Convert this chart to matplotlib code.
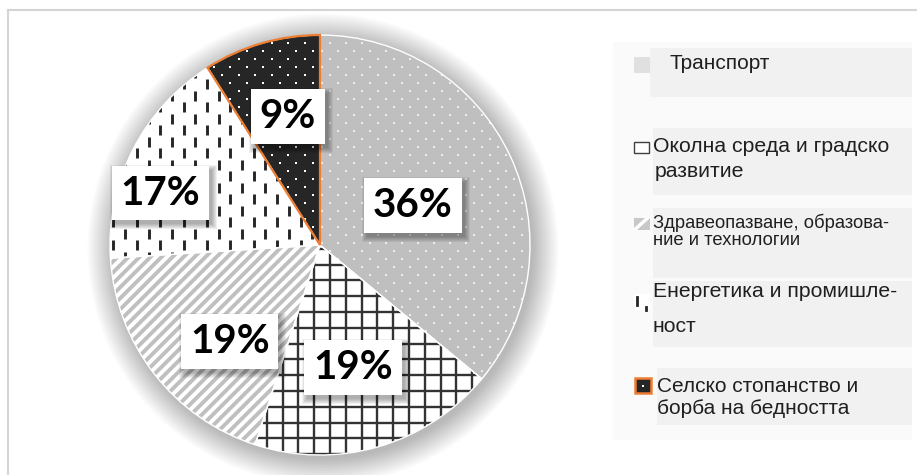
import numpy as np
import matplotlib
matplotlib.use("Agg")
import matplotlib.pyplot as plt
from matplotlib.patches import Rectangle, Circle, Wedge
from matplotlib.collections import LineCollection

# ---- data ----
categories = [
    "Транспорт",
    "Околна среда и градско развитие",
    "Здравеопазване, образование и технологии",
    "Енергетика и промишленост",
    "Селско стопанство и борба на бедността",
]
values = [36, 19, 19, 17, 9]
legend_lines = [
    ["Транспорт"],
    ["Околна среда и градско", "развитие"],
    ["Здравеопазване, образова-", "ние и технологии"],
    ["Енергетика и промишле-", "ност"],
    ["Селско стопанство и", "борба на бедността"],
]

# ---- layout / style ----
W, H = 917, 475
def Y(y):
    return H - y

CX, CY, R = 320, Y(245), 210
face = ["#BFBFBF", "#FFFFFF", "#BFBFBF", "#FFFFFF", "#262626"]
label_frac = [0.48, 0.605, 0.63, 0.80, 0.63]
label_tweak = [-2.2, -1.2, 9.2, 9.0, -2.2]   # degrees (ccw)

fig = plt.figure(figsize=(W / 100, H / 100), dpi=100)
ax = fig.add_axes([0, 0, 1, 1])
ax.set_xlim(0, W)
ax.set_ylim(0, H)

# soft glow/shadow behind the pie
for i in range(18):
    ax.add_patch(Circle((CX + 3, CY - 4), R + i * 1.5, fc="black",
                        ec="none", alpha=0.014, zorder=0.5))

wedges, _ = ax.pie(values, startangle=90, counterclock=False,
                   center=(CX, CY), radius=R,
                   colors=face, wedgeprops=dict(linewidth=0))
for w in wedges:
    w.set_zorder(1)

x0, x1, y0, y1 = CX - R - 20, CX + R + 20, CY - R - 20, CY + R + 20

def lattice(dx, dy, stagger):
    pts = []
    ys = np.arange(y0, y1, dy)
    for j, yy in enumerate(ys):
        off = stagger if j % 2 else 0
        for xx in np.arange(x0 + off, x1, dx):
            pts.append((xx, yy))
    return np.array(pts)

# 0: transport - grey with light dots
p = lattice(16, 8, 8)
sc = ax.scatter(p[:, 0], p[:, 1], s=2.4, marker="s", c="#EDEDED",
                linewidths=0, zorder=2)
sc.set_clip_path(wedges[0])

# 1: crosshatch grid
segs = [[(xx, y0), (xx, y1)] for xx in np.arange(x0 + 3, x1, 15.8)]
segs += [[(x0, yy), (x1, yy)] for yy in np.arange(y0 + 5, y1, 15.8)]
lc = LineCollection(segs, colors="#333333", linewidths=1.7, zorder=2)
ax.add_collection(lc)
lc.set_clip_path(wedges[1])

# 2: diagonal white stripes on grey
segs = [[(xx, y0), (xx + (y1 - y0), y1)] for xx in np.arange(x0 - (y1 - y0), x1, 11)]
lc = LineCollection(segs, colors="white", linewidths=2.8, zorder=2)
ax.add_collection(lc)
lc.set_clip_path(wedges[2])

# 3: vertical dashes
p = lattice(23.4, 11.5, 11.7)
segs = [[(a, b - 5), (a, b + 5)] for a, b in p]
lc = LineCollection(segs, colors="#262626", linewidths=2.1, zorder=2)
ax.add_collection(lc)
lc.set_clip_path(wedges[3])

# 4: dark with white dots
p = lattice(16.5, 8, 8.25)
sc = ax.scatter(p[:, 0], p[:, 1], s=2.6, marker="s", c="white",
                linewidths=0, zorder=2)
sc.set_clip_path(wedges[4])

# wedge borders
for i, w in enumerate(wedges):
    ax.add_patch(Wedge(w.center, w.r, w.theta1, w.theta2, fill=False,
                       ec="white", lw=1.0, zorder=3))
w = wedges[4]
ax.add_patch(Wedge(w.center, w.r, w.theta1, w.theta2, fill=False,
                   ec="#ED7D31", lw=1.6, zorder=4))

# percentage labels with white boxes
total = float(sum(values))
label_texts = []
for i, w in enumerate(wedges):
    ang = np.deg2rad((w.theta1 + w.theta2) / 2 + label_tweak[i])
    lx = CX + label_frac[i] * R * np.cos(ang)
    ly = CY + label_frac[i] * R * np.sin(ang)
    txt = f"{values[i] / total * 100:.0f}%"
    t = ax.text(lx, ly, txt, ha="center", va="center", fontsize=29,
                fontweight="bold", family="Lato", color="black",
                bbox=dict(boxstyle="square,pad=0.22", fc="white", ec="none"),
                zorder=6)
    label_texts.append(t)

# legend area
ax.add_patch(Rectangle((613, Y(440)), 299, 398, fc="#FAFAFA", ec="none", zorder=0.2))
entry_box = [(650, 48, 97), (653, 128, 195), (653, 208, 278), (653, 281, 347), (657, 368, 425)]
for (bx, t, b) in entry_box:
    ax.add_patch(Rectangle((bx, Y(b)), 912 - bx, b - t, fc="#F1F1F1", ec="none", zorder=0.3))

text_pos = [
    [(670, 69)],
    [(653, 152), (655, 177)],
    [(653, 228), (653, 245)],
    [(653, 297), (653, 332)],
    [(657, 392), (657, 414)],
]
text_size = [15, 15.3, 13.2, 15.2, 15]
for lines, poss, fs in zip(legend_lines, text_pos, text_size):
    for s, (tx, ty) in zip(lines, poss):
        ax.text(tx, Y(ty), s, fontsize=fs, family="Liberation Sans",
                color="#1F1F1F", ha="left", va="baseline", zorder=7)

# legend markers
ax.add_patch(Rectangle((634, Y(73)), 16, 16, fc="#E0E0E0", ec="none", zorder=7))
ax.add_patch(Rectangle((634, Y(153)), 15, 11, fc="white", ec="#404040", lw=1.0, zorder=7))
m3 = Rectangle((634, Y(230)), 16, 12, fc="#C8C8C8", ec="none", zorder=7)
ax.add_patch(m3)
ln, = ax.plot([630, 652], [Y(234), Y(214)], color="white", lw=2.5, zorder=7.5)
ln.set_clip_path(m3)
ax.add_patch(Rectangle((634, Y(310)), 16, 16, fc="white", ec="none", zorder=7))
ax.plot([636.5, 636.5], [Y(305), Y(297)], color="#262626", lw=2, zorder=7.5)
ax.plot([645.5, 645.5], [Y(310), Y(307)], color="#262626", lw=2, zorder=7.5)
ax.add_patch(Rectangle((634.5, Y(393)), 16, 15, fc="#262626", ec="#ED7D31", lw=1.8, zorder=7))
ax.scatter([642.5], [Y(385.5)], s=3, marker="s", c="white", linewidths=0, zorder=8)

# chart frame
ax.plot([8, 8], [0, Y(10)], color="#D4D4D4", lw=1.5, zorder=0.1)
ax.plot([8, W], [Y(10), Y(10)], color="#D4D4D4", lw=1.5, zorder=0.1)

ax.set_aspect("auto")
ax.axis("off")
ax.set_xlim(0, W)
ax.set_ylim(0, H)

# blurred drop shadows behind the label boxes
fig.canvas.draw()
inv = ax.transData.inverted()
for t in label_texts:
    ext = t.get_bbox_patch().get_window_extent()
    (bx0, by0), (bx1, by1) = inv.transform([[ext.x0, ext.y0], [ext.x1, ext.y1]])
    for k in range(6):
        g = 5 - k
        ax.add_patch(Rectangle((bx0 + 3 - g, by0 - 4 - g), (bx1 - bx0) + 2 * g,
                               (by1 - by0) + 2 * g, fc="black", ec="none",
                               alpha=0.06, zorder=5))

fig.savefig("out.png", dpi=100, facecolor="white")
